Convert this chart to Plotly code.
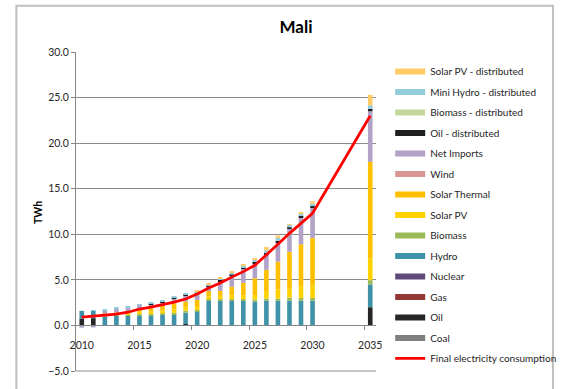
import plotly.graph_objects as go

# Years shown on the category axis (2031-2034 are empty slots)
years = [2010, 2011, 2012, 2013, 2014, 2015, 2016, 2017, 2018, 2019, 2020,
         2021, 2022, 2023, 2024, 2025, 2026, 2027, 2028, 2029, 2030, 2035]

# Generation by source, TWh (stacked bottom to top)
coal = [0] * 22
oil = [0.75, 0.80, 0, 0, 0, 0, 0, 0, 0, 0.15, 0,
       0, 0, 0, 0, 0, 0, 0, 0, 0, 0, 2.00]
gas = [0] * 22
nuclear = [0] * 22
hydro = [0.85, 0.80, 1.00, 1.05, 1.08, 1.10, 1.10, 1.15, 1.20, 1.25, 1.55,
         2.70, 2.70, 2.70, 2.70, 2.60, 2.70, 2.70, 2.70, 2.70, 2.70, 2.50]
biomass = [0, 0, 0.10, 0.10, 0.15, 0.15, 0.15, 0.18, 0.18, 0.22, 0.15,
           0.18, 0.18, 0.18, 0.18, 0.25, 0.25, 0.25, 0.35, 0.32, 0.32, 0.47]
solar_pv = [0, 0, 0.15, 0.15, 0.15, 0.25, 0.25, 0.30, 0.35, 0.35, 0.30,
            0.30, 0.36, 0.43, 0.43, 0.47, 0.82, 1.00, 0.97, 1.29, 1.36, 2.40]
solar_thermal = [0, 0, 0.05, 0.10, 0.15, 0.35, 0.40, 0.50, 0.70, 0.65, 0.80,
                 0.60, 0.54, 0.93, 1.36, 1.86, 2.33, 3.05, 4.05, 4.59, 5.23, 10.57]
wind = [0] * 22
net_imports = [-0.25, -0.22, 0.39, 0.47, 0.43, 0.43, 0.43, 0.43, 0.54, 0.65, 0.72,
               0.47, 1.08, 1.22, 1.61, 1.61, 1.61, 2.04, 2.51, 2.94, 3.30, 5.56]
oil_dist = [0, 0, 0, 0, 0, 0, 0.05, 0.05, 0.10, 0.10, 0.10,
            0.15, 0.18, 0.11, 0.10, 0.20, 0.25, 0.25, 0.18, 0.18, 0.18, 0.25]
biomass_dist = [0] * 22
minihydro_dist = [0, 0.05, 0.05, 0.05, 0.10, 0.05, 0.10, 0.15, 0.15, 0.20, 0.15,
                  0.10, 0.14, 0.25, 0.20, 0.23, 0.28, 0.32, 0.29, 0.25, 0.25, 0.40]
solarpv_dist = [0, 0, 0, 0, 0, 0, 0, 0, 0, 0, 0.05,
                0.05, 0.05, 0.10, 0.07, 0.18, 0.36, 0.25, 0.07, 0.18, 0.29, 1.15]

# Final electricity consumption, TWh
consumption = [0.90, 1.00, 1.10, 1.25, 1.45, 1.80, 2.00, 2.25, 2.55, 2.90, 3.45,
               4.10, 4.65, 5.30, 5.90, 6.60, 7.70, 8.90, 10.10, 11.20, 12.30, 23.00]

series = [
    ("Coal", coal, "#7F7F7F"),
    ("Oil", oil, "#262626"),
    ("Gas", gas, "#953735"),
    ("Nuclear", nuclear, "#604A7B"),
    ("Hydro", hydro, "#3F92A8"),
    ("Biomass", biomass, "#9BBB59"),
    ("Solar PV", solar_pv, "#FFD200"),
    ("Solar Thermal", solar_thermal, "#FFC000"),
    ("Wind", wind, "#D99694"),
    ("Net Imports", net_imports, "#B3A2C7"),
    ("Oil - distributed", oil_dist, "#1F1F1F"),
    ("Biomass - distributed", biomass_dist, "#C4D79B"),
    ("Mini Hydro - distributed", minihydro_dist, "#92CDDC"),
    ("Solar PV - distributed", solarpv_dist, "#FFCC66"),
]

font = "Lato, 'Open Sans', sans-serif"
axis_grey = "#868686"
grid_grey = "#8C8C8C"

fig = go.Figure()

for name, vals, color in series:
    fig.add_trace(go.Bar(x=years, y=vals, name=name, marker_color=color,
                         marker_line_width=0, width=0.4, showlegend=False,
                         legendgroup=name))

# Legend entries: wide flat swatches, listed top of stack first
for name, vals, color in reversed(series):
    fig.add_trace(go.Scatter(x=[None], y=[None], mode="lines", name=name,
                             line=dict(color=color, width=6),
                             legendgroup=name, showlegend=True))

fig.add_trace(go.Scatter(x=years, y=consumption, xaxis="x2", mode="lines",
                         name="Final electricity consumption",
                         line=dict(color="#FF0000", width=2.75),
                         legendgroup="Final electricity consumption"))

y_range = [-5.0, 30.0]
zero_pos = -y_range[0] / (y_range[1] - y_range[0])
x_range = [2009.5, 2035.5]

# plot area in pixels: left 76, right 393, top 52, bottom 377
plot_w, plot_h, plot_b = 317, 325, 377

fig.update_layout(
    width=574, height=389, autosize=False,
    margin=dict(l=76, r=181, t=52, b=12),
    paper_bgcolor="white", plot_bgcolor="white",
    barmode="relative",
    font=dict(family=font, size=10, color="#262626"),
    title=dict(text="<b>Mali</b>", x=296 / 574, xref="container", xanchor="center",
               y=1 - 27 / 389, yref="container", yanchor="middle",
               font=dict(family=font, size=17, color="#000000")),
    xaxis=dict(range=x_range, tickvals=[2014.5, 2019.5, 2024.5, 2029.5, 2034.5],
               ticktext=[""] * 5, ticks="outside", ticklen=4, tickcolor=axis_grey,
               showline=True, linecolor=axis_grey, linewidth=1,
               showgrid=False, zeroline=False, anchor="free", position=zero_pos),
    xaxis2=dict(range=x_range, overlaying="x", side="bottom",
                tickvals=[2010, 2015, 2020, 2025, 2030, 2035],
                ticktext=["2010", "2015", "2020", "2025", "2030", "2035"],
                ticks="", showline=False, showgrid=False, zeroline=False,
                anchor="free", position=zero_pos, ticklabelstandoff=12,
                tickfont=dict(family=font, size=10.5, color="#262626")),
    yaxis=dict(range=y_range, tickvals=[-5, 0, 5, 10, 15, 20, 25, 30],
               tickformat=".1f",
               showgrid=True, gridcolor=grid_grey, gridwidth=1,
               showline=True, linecolor=axis_grey, linewidth=1,
               ticks="outside", ticklen=4, tickcolor=axis_grey,
               zeroline=True, zerolinecolor=axis_grey, zerolinewidth=1,
               tickfont=dict(family=font, size=10.5, color="#262626")),
    legend=dict(x=(408 - 76) / plot_w, xanchor="left", y=(plot_b - 57) / plot_h,
                yanchor="top", traceorder="grouped", tracegroupgap=1.5,
                bgcolor="rgba(0,0,0,0)", borderwidth=0,
                font=dict(family=font, size=10, color="#262626")),
    annotations=[dict(text="<b>TWh</b>", xref="paper", yref="paper",
                      x=(36 - 76) / plot_w, y=(plot_b - 216) / plot_h,
                      xanchor="center", yanchor="middle",
                      textangle=-90, showarrow=False,
                      font=dict(family=font, size=10.5, color="#000000"))],
    shapes=[
        # chart frame
        dict(type="rect", xref="paper", yref="paper",
             x0=(13 - 76) / plot_w, x1=(580 - 76) / plot_w,
             y0=(plot_b - 400) / plot_h, y1=(plot_b - 5) / plot_h,
             line=dict(color="#C0C0C0", width=2), fillcolor="rgba(0,0,0,0)",
             layer="below"),
        # gridline along the bottom edge of the plot area (axis minimum)
        dict(type="line", xref="paper", yref="paper", x0=0, x1=1, y0=0, y1=0,
             line=dict(color=grid_grey, width=1), layer="above"),
    ],
)

fig.write_html("out.html")
